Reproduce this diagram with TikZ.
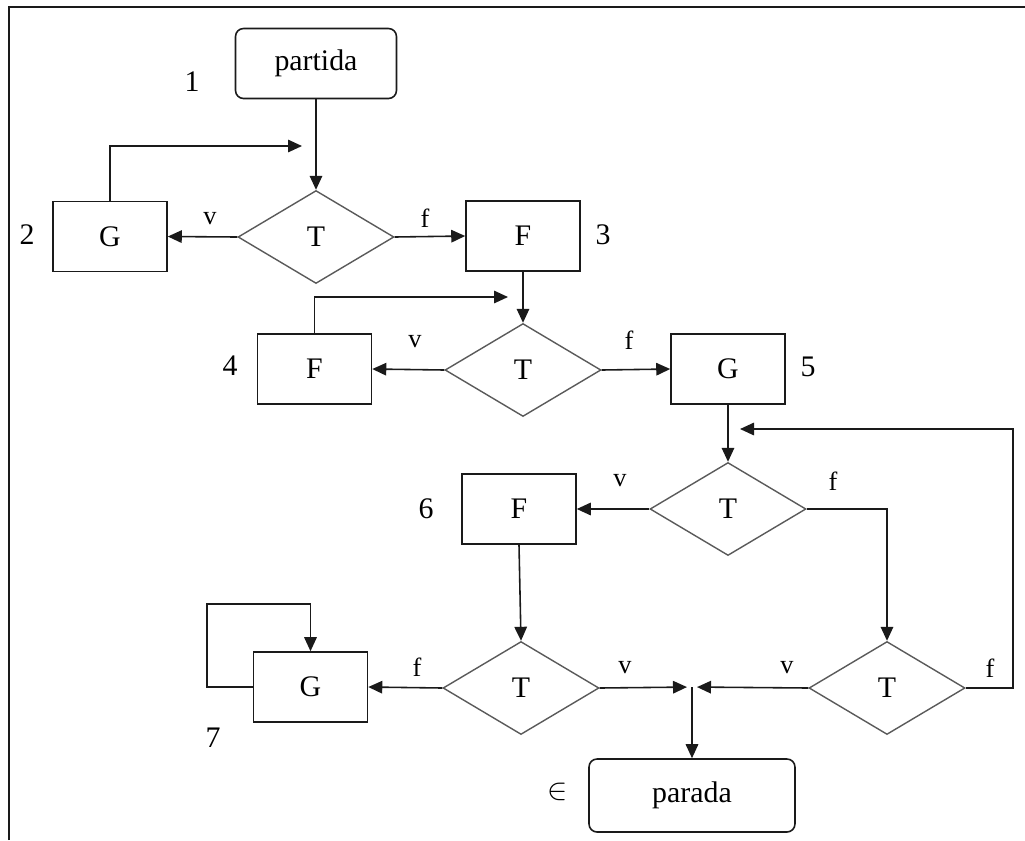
\documentclass[tikz,border=0pt]{standalone}
\usepackage{fontspec}
\setmainfont{Liberation Serif}
\usetikzlibrary{shapes.geometric, arrows.meta}
\definecolor{FlowBlack}{HTML}{1A1A1A}
\definecolor{FlowGray}{HTML}{5A5A5A}
\tikzset{
    % Node styles
    termbox/.style={
        rectangle,
        rounded corners=0.16cm,
        draw=FlowBlack,
        line width=0.9pt,
        minimum width=3.22cm,
        minimum height=1.4cm,
        text centered,
        font=\fontsize{17}{20}\selectfont
    },
    procbox/.style={
        rectangle,
        draw=FlowBlack,
        line width=0.9pt,
        minimum width=2.28cm,
        minimum height=1.4cm,
        text centered,
        font=\fontsize{17}{20}\selectfont
    },
    testbox/.style={
        diamond,
        draw=FlowGray,
        line width=0.8pt,
        minimum width=3.12cm,
        minimum height=1.86cm,
        inner sep=0pt,
        font=\fontsize{17}{20}\selectfont
    },
    numlabel/.style={
        font=\fontsize{17}{20}\selectfont
    },
    edgelabel/.style={
        font=\fontsize{15}{17}\selectfont
    },
    % Arrow styles
    flowarrow/.style={
        -{Triangle[length=0.28cm,width=0.25cm]},
        line width=0.9pt,
        FlowBlack
    }
}
\begin{document}
\begin{tikzpicture}[x=0.02cm, y=-0.02cm]
    \useasboundingbox (0,0) rectangle (1025,840);
    % Frame
    \draw[line width=1.3pt, FlowBlack] (9,840) -- (9,7) -- (1025,7);

    % Boxes
    \node[termbox] (start) at (316,63.5) {partida};
    \node[testbox] (T1) at (316,237) {T};
    \node[procbox] (G2) at (110,236.5) {G};
    \node[procbox] (F3) at (523,236) {F};
    \node[testbox] (T2) at (523,370) {T};
    \node[procbox] (F4) at (314.5,369) {F};
    \node[procbox] (G5) at (728,369) {G};
    \node[testbox] (T3) at (728,509) {T};
    \node[procbox] (F6) at (519,509) {F};
    \node[testbox] (T4) at (521,688) {T};
    \node[procbox] (G7) at (310.5,687) {G};
    \node[testbox] (T5) at (887,688) {T};
    \node[termbox, minimum width=4.12cm, minimum height=1.46cm] (stop) at (692,795.5) {parada};

    % Numbers
    \node[numlabel] (n1) at (192,82) {1};
    \node[numlabel] (n2) at (27,235) {2};
    \node[numlabel] (n3) at (603,235) {3};
    \node[numlabel] (n4) at (230,366) {4};
    \node[numlabel] (n5) at (808,367) {5};
    \node[numlabel] (n6) at (426,509) {6};
    \node[numlabel] (n7) at (213,738) {7};
    \node[numlabel] (n8) at (558,792) {$\in$};

    % Branch labels
    \node[edgelabel] (l1v) at (210,219) {v};
    \node[edgelabel] (l1f) at (425,218) {f};
    \node[edgelabel] (l2v) at (415,342) {v};
    \node[edgelabel] (l2f) at (629,340) {f};
    \node[edgelabel] (l3v) at (620,481) {v};
    \node[edgelabel] (l3f) at (833,481) {f};
    \node[edgelabel] (l4f) at (417,667) {f};
    \node[edgelabel] (l4v) at (625,668) {v};
    \node[edgelabel] (l5v) at (787,668) {v};
    \node[edgelabel] (l5f) at (990,668) {f};

    % Loose ends
    \coordinate (loopA) at (302,146);
    \coordinate (loopB) at (508,297);
    \coordinate (loopC) at (207,604);
    \coordinate (back) at (1013,429);
    \coordinate (backend) at (740,429);
    \coordinate (join) at (692,687);

    % Arrows
    \draw[flowarrow] (start) -- (T1);
    \draw[flowarrow] (T1.west) -- (G2.east);
    \draw[flowarrow] (G2.north) |- (loopA);
    \draw[flowarrow] (T1.east) -- (F3.west);
    \draw[flowarrow] (F3.south) -- (T2.north);
    \draw[flowarrow] (T2.west) -- (F4.east);
    \draw[flowarrow] (F4.north) |- (loopB);
    \draw[flowarrow] (T2.east) -- (G5.west);
    \draw[flowarrow] (G5.south) -- (T3.north);
    \draw[flowarrow] (T3.west) -- (F6.east);
    \draw[flowarrow] (T3.east) -| (T5.north);
    \draw[flowarrow] (F6.south) -- (T4.north);
    \draw[flowarrow] (T4.west) -- (G7.east);
    \draw[flowarrow] (G7.west) -| (loopC) -| (G7.north);
    \draw[flowarrow, shorten >=0.1cm] (T4.east) -- (join);
    \draw[flowarrow, shorten >=0.1cm] (T5.west) -- (join);
    \draw[flowarrow] (join) -- (stop.north);
    \draw[flowarrow] (T5.east) -| (back) -- (backend);
\end{tikzpicture}
\end{document}
